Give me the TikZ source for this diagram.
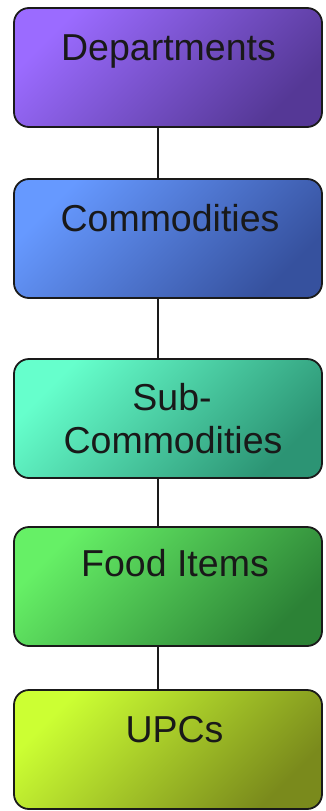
\documentclass[tikz,border=0pt]{standalone}
\usepackage{fontspec}
\setmainfont{Liberation Sans}
\definecolor{deptA}{HTML}{9B6BFF}
\definecolor{deptB}{HTML}{553896}
\definecolor{commA}{HTML}{6699FF}
\definecolor{commB}{HTML}{36519E}
\definecolor{subA}{HTML}{66FFCC}
\definecolor{subB}{HTML}{2C9474}
\definecolor{foodA}{HTML}{66F066}
\definecolor{foodB}{HTML}{2C8236}
\definecolor{upcA}{HTML}{CCFF33}
\definecolor{upcB}{HTML}{7A8A1C}
\definecolor{edge}{HTML}{1A1A1A}
\begin{document}
\begin{tikzpicture}[x=1pt,y=-1pt,
  box/.style={draw=edge, line width=1.8pt, rounded corners=15pt, minimum width=308pt, minimum height=119pt, inner sep=0pt},
  shade2/.style n args={2}{top color=#1, bottom color=#2, middle color=#1!50!#2, shading angle=45},
  lbl/.style={anchor=base, inner sep=0pt, font=\fontsize{37.5}{43}\selectfont, text=black!90},
  link/.style={draw=edge, line width=1.6pt}]
\useasboundingbox (0,0) rectangle (325,811);
\node[box, shade2={deptA}{deptB}] (dept) at (168,67.5) {};
\node[box, shade2={commA}{commB}] (comm) at (168,238.5) {};
\node[box, shade2={subA}{subB}] (sub) at (168,418.5) {};
\node[box, shade2={foodA}{foodB}] (food) at (168,586.5) {};
\node[box, shade2={upcA}{upcB}] (upc) at (168,749.5) {};
\coordinate (cx) at (158,0);
\draw[link] (dept.south -| cx) -- (comm.north -| cx);
\draw[link] (comm.south -| cx) -- (sub.north -| cx);
\draw[link] (sub.south -| cx) -- (food.north -| cx);
\draw[link] (food.south -| cx) -- (upc.north -| cx);
\node[lbl] (tdept) at (168.5,60) {Departments};
\node[lbl] (tcomm) at (170,231) {Commodities};
\node[lbl] (tsub1) at (172,410) {Sub-};
\node[lbl] (tsub2) at (173,453) {Commodities};
\node[lbl] (tfood) at (175,576) {Food Items};
\node[lbl] (tupc) at (174.5,742) {UPCs};
\end{tikzpicture}
\end{document}
